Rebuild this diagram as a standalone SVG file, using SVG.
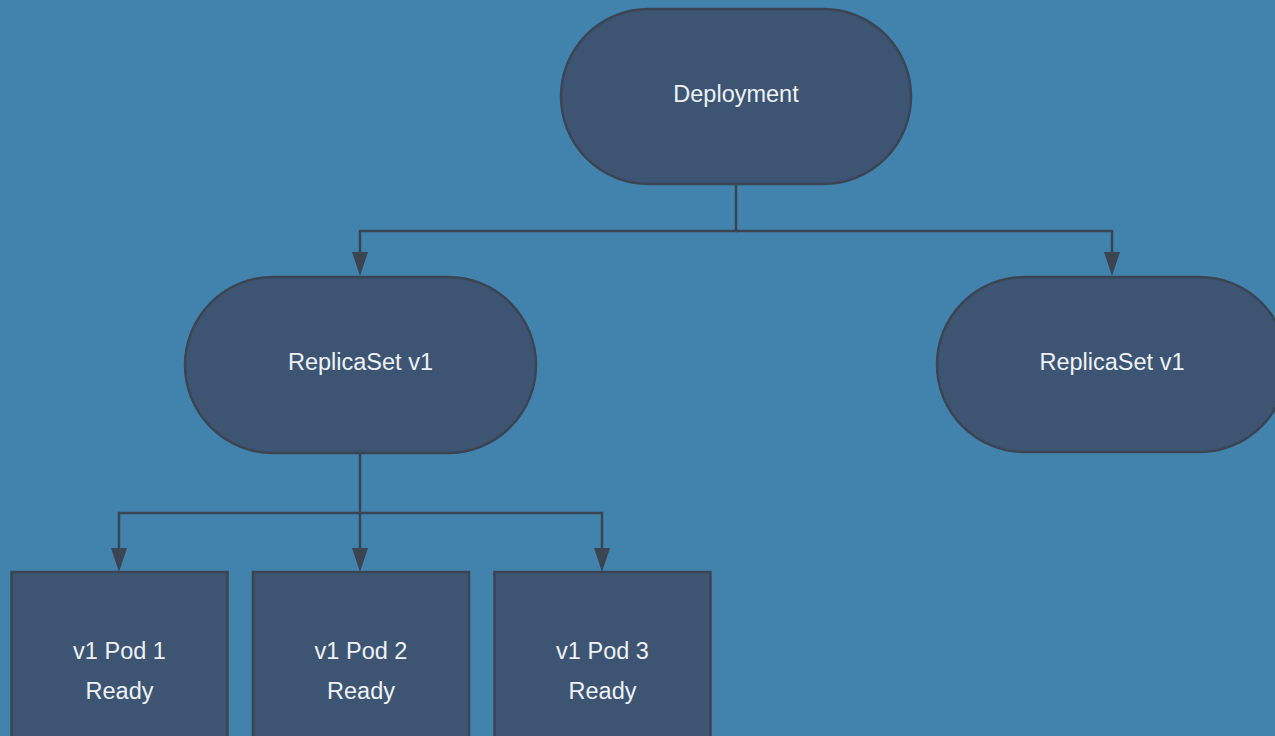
<svg xmlns="http://www.w3.org/2000/svg" width="1275" height="736" viewBox="0 0 1275 736">
<style>
.node{fill:#3d5573;stroke:#3b4453;stroke-width:2.5}
.lbl{font-family:"Liberation Sans",Arial,sans-serif;font-size:23.5px;fill:#eef2f7;text-anchor:middle}
.conn{fill:none;stroke:#3b4453;stroke-width:2.5}
.head{fill:#3b4453}
</style>
<rect x="0" y="0" width="1275" height="736" fill="#4283ae"/>
<g id="connectors">
<path class="conn" d="M736,184 V231 H360 V252" />
<path class="head" d="M352,252 L368,252 L360,276 Z"/>
<path class="conn" d="M736,231 H1112 V252" />
<path class="head" d="M1104,252 L1120,252 L1112,276 Z"/>
<path class="conn" d="M360,453 V513 H119 V548" />
<path class="head" d="M111,548 L127,548 L119,572 Z"/>
<path class="conn" d="M360,513 V548" />
<path class="head" d="M352,548 L368,548 L360,572 Z"/>
<path class="conn" d="M360,513 H602 V548" />
<path class="head" d="M594,548 L610,548 L602,572 Z"/>
</g>
<g id="deployment">
<rect class="node" x="561" y="9" width="350" height="175" rx="87.5"/>
<text class="lbl" x="736" y="102">Deployment</text>
</g>
<g id="replicaset-left">
<rect class="node" x="185" y="277" width="351" height="176" rx="88"/>
<text class="lbl" x="360.5" y="370">ReplicaSet v1</text>
</g>
<g id="replicaset-right">
<rect class="node" x="937" y="277" width="350" height="175" rx="87.5"/>
<text class="lbl" x="1112" y="370">ReplicaSet v1</text>
</g>
<g id="pod1">
<rect class="node" x="11.5" y="572" width="216" height="180"/>
<text class="lbl" x="119.5" y="659">v1 Pod 1</text>
<text class="lbl" x="119.5" y="699">Ready</text>
</g>
<g id="pod2">
<rect class="node" x="253" y="572" width="216" height="180"/>
<text class="lbl" x="361" y="659">v1 Pod 2</text>
<text class="lbl" x="361" y="699">Ready</text>
</g>
<g id="pod3">
<rect class="node" x="494.5" y="572" width="216" height="180"/>
<text class="lbl" x="602.5" y="659">v1 Pod 3</text>
<text class="lbl" x="602.5" y="699">Ready</text>
</g>
</svg>
